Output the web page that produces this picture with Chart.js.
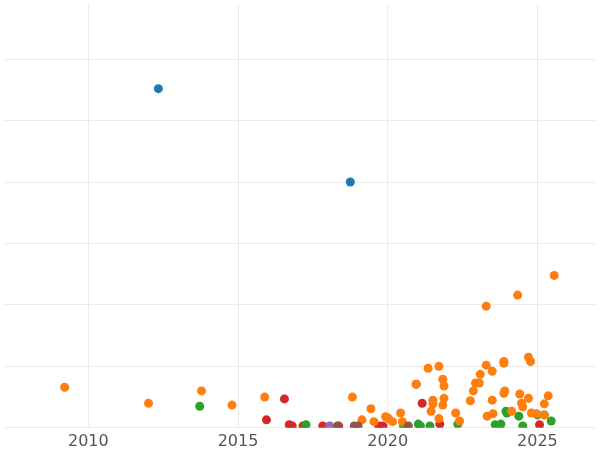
<!DOCTYPE html>
<html>
<head>
<meta charset="utf-8">
<script src="https://cdn.jsdelivr.net/npm/chart.js@4"></script>
<style>
  html, body { margin: 0; padding: 0; background: #fff; }
  #wrap { width: 600px; height: 450px; }
</style>
</head>
<body>
<div id="wrap"><canvas id="chart"></canvas></div>
<script>
// values (x = year, y = value)
const blueX = [2012.34, 2018.75];
const blueY = [5.52, 4.0];
const orangeX = [2009.21, 2012.01, 2013.78, 2014.80, 2015.89, 2018.82, 2019.14, 2019.44, 2019.54, 2019.93, 2020.03, 2020.16, 2020.43, 2020.49, 2020.95, 2021.35, 2021.51, 2021.51, 2021.45, 2021.71, 2021.84, 2021.88, 2021.88, 2021.84, 2021.71, 2022.27, 2022.40, 2022.76, 2022.86, 2022.93, 2023.09, 2023.06, 2023.29, 2023.29, 2023.49, 2023.49, 2023.32, 2023.52, 2023.88, 2023.88, 2023.91, 2023.88, 2024.14, 2024.34, 2024.41, 2024.47, 2024.51, 2024.70, 2024.77, 2024.70, 2024.80, 2024.97, 2025.23, 2025.36, 2025.56, 2025.23];
const orangeY = [0.66, 0.40, 0.60, 0.37, 0.50, 0.50, 0.13, 0.31, 0.10, 0.18, 0.15, 0.10, 0.24, 0.10, 0.71, 0.97, 0.45, 0.39, 0.27, 1.0, 0.79, 0.68, 0.48, 0.37, 0.15, 0.24, 0.11, 0.44, 0.60, 0.73, 0.87, 0.73, 1.02, 1.98, 0.92, 0.45, 0.19, 0.23, 1.08, 1.05, 0.60, 0.56, 0.27, 2.16, 0.55, 0.40, 0.34, 1.15, 1.08, 0.48, 0.24, 0.23, 0.39, 0.52, 2.48, 0.21];
const greenX = [2013.72, 2017.27, 2020.53, 2021.02, 2021.09, 2021.41, 2022.34, 2023.59, 2023.78, 2023.98, 2023.95, 2024.38, 2024.51, 2025.0, 2025.23, 2025.46];
const greenY = [0.35, 0.05, 0.03, 0.06, 0.03, 0.03, 0.06, 0.05, 0.06, 0.24, 0.27, 0.19, 0.03, 0.21, 0.21, 0.11];
const redX = [2015.95, 2016.55, 2016.71, 2016.81, 2017.17, 2017.83, 2018.36, 2019.70, 2019.84, 2020.95, 2021.15, 2021.74, 2025.07];
const redY = [0.13, 0.47, 0.05, 0.03, 0.03, 0.03, 0.03, 0.03, 0.03, 0.71, 0.40, 0.06, 0.05];
const purpleX = [2018.06];
const purpleY = [0.03];
const brownX = [2018.32, 2018.88, 2019.01, 2020.69];
const brownY = [0.03, 0.03, 0.03, 0.03];
const xTicks = [2010, 2015, 2020, 2025];
const yTicks = [0, 1, 2, 3, 4, 5, 6];

const pts = (xs, ys) => xs.map((x, i) => ({ x: x, y: ys[i] }));
const ds = (xs, ys, color) => ({
  data: pts(xs, ys), backgroundColor: color, borderWidth: 0,
  pointRadius: 4.5, pointHoverRadius: 4.5
});

new Chart(document.getElementById('chart'), {
  type: 'scatter',
  data: {
    datasets: [
      ds(brownX, brownY, '#8c564b'),
      ds(purpleX, purpleY, '#9467bd'),
      ds(orangeX, orangeY, '#ff7f0e'),
      ds(greenX, greenY, '#2ca02c'),
      ds(redX, redY, '#d62728'),
      ds(blueX, blueY, '#1f77b4')
    ]
  },
  options: {
    responsive: true, maintainAspectRatio: false, animation: false,
    layout: { padding: { left: -3, right: -5, top: 0, bottom: -5 } },
    plugins: { legend: { display: false }, tooltip: { enabled: false } },
    scales: {
      x: {
        type: 'linear', min: 2007.2, max: 2026.94,
        afterBuildTicks: s => { s.ticks = xTicks.map(v => ({ value: v })); },
        ticks: { color: '#555', font: { family: 'DejaVu Sans', size: 16 }, padding: 4, callback: v => String(v) },
        grid: { color: '#ebebeb', drawTicks: false },
        border: { display: false }
      },
      y: {
        min: 0, max: 6.89,
        afterBuildTicks: s => { s.ticks = yTicks.map(v => ({ value: v })); },
        ticks: { display: false },
        grid: { color: '#ebebeb', drawTicks: false },
        border: { display: false },
        afterFit: s => { s.width = 0; }
      }
    }
  }
});
</script>
</body>
</html>
